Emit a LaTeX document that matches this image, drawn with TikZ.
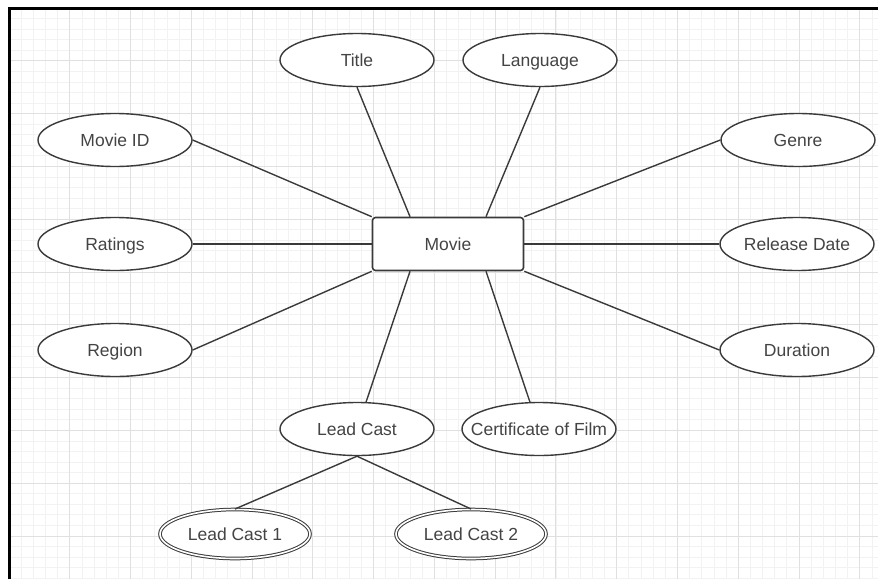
\documentclass[tikz,border=0pt]{standalone}
\usepackage{fontspec}
\setmainfont{Liberation Sans}
\usetikzlibrary{shapes.geometric}
\definecolor{lineclr}{HTML}{3A3A3A}
\definecolor{textclr}{HTML}{444444}
\definecolor{minorgrid}{HTML}{F2F2F2}
\definecolor{majorgrid}{HTML}{E0E0E0}
\tikzset{
  attr/.style={ellipse,draw=lineclr,fill=white,line width=1.4pt,minimum width=154pt,minimum height=53pt,inner sep=0pt,text=textclr,text height=12.5pt,text depth=0pt,font=\fontsize{17.5}{20}\selectfont},
  multiattr/.style={attr,double,double distance=1.6pt,line width=1pt,minimum width=150pt,minimum height=49pt},
  entity/.style={draw=lineclr,fill=white,line width=1.6pt,rounded corners=3pt,minimum width=151pt,minimum height=53pt,inner sep=0pt,text=textclr,text height=12.5pt,text depth=0pt,font=\fontsize{17.5}{20}\selectfont},
  link/.style={draw=lineclr,line width=1.4pt}
}
\begin{document}
\begin{tikzpicture}[x=1pt,y=-1pt]
            \useasboundingbox (0,0) rectangle (878,579);
            % Grid
            \foreach \i in {0,...,71} \draw [minorgrid,line width=0.8pt] ({9+\i*12.154},8) -- ({9+\i*12.154},579);
            \foreach \j in {0,...,54} \draw [minorgrid,line width=0.8pt] (9,{8+\j*10.56}) -- (878,{8+\j*10.56});
            \foreach \i in {0,...,14} \draw [majorgrid,line width=1pt] ({9+\i*60.77},8) -- ({9+\i*60.77},579);
            \foreach \j in {0,...,10} \draw [majorgrid,line width=1pt] (9,{8+\j*52.8}) -- (878,{8+\j*52.8});
            \draw [line width=3pt] (9.5,579) -- (9.5,8.5) -- (878,8.5);

            % Entity and attributes
            \node [entity] (movie) at (448,244) {Movie};
            \node [attr] (title) at (357,60) {Title};
            \node [attr] (language) at (540,60) {Language};
            \node [attr] (movieid) at (115,140) {Movie ID};
            \node [attr] (genre) at (798,140) {Genre};
            \node [attr] (ratings) at (115,244) {Ratings};
            \node [attr] (releasedate) at (797,244) {Release Date};
            \node [attr] (region) at (115,350) {Region};
            \node [attr] (duration) at (797,350) {Duration};
            \node [attr] (leadcast) at (357,429) {Lead Cast};
            \node [attr,inner xsep=-22pt] (certificate) at (539,429) {Certificate of Film};
            \node [multiattr] (leadcastone) at (235,534) {Lead Cast 1};
            \node [multiattr] (leadcasttwo) at (471,534) {Lead Cast 2};

            % Links
            \draw [link] (title.south) -- ([xshift=-38pt]movie.north);
            \draw [link] (language.south) -- ([xshift=38pt]movie.north);
            \draw [link] (movieid.east) -- (movie.north west);
            \draw [link] (genre.west) -- (movie.north east);
            \draw [link] (ratings.east) -- (movie.west);
            \draw [link] (releasedate.west) -- (movie.east);
            \draw [link] (region.east) -- (movie.south west);
            \draw [link] (duration.west) -- (movie.south east);
            \draw [link] ([xshift=-38pt]movie.south) -- (leadcast);
            \draw [link] ([xshift=38pt]movie.south) -- (certificate);
            \draw [link] (leadcast.south) -- (leadcastone.north);
            \draw [link] (leadcast.south) -- (leadcasttwo.north);
        \end{tikzpicture}
\end{document}
